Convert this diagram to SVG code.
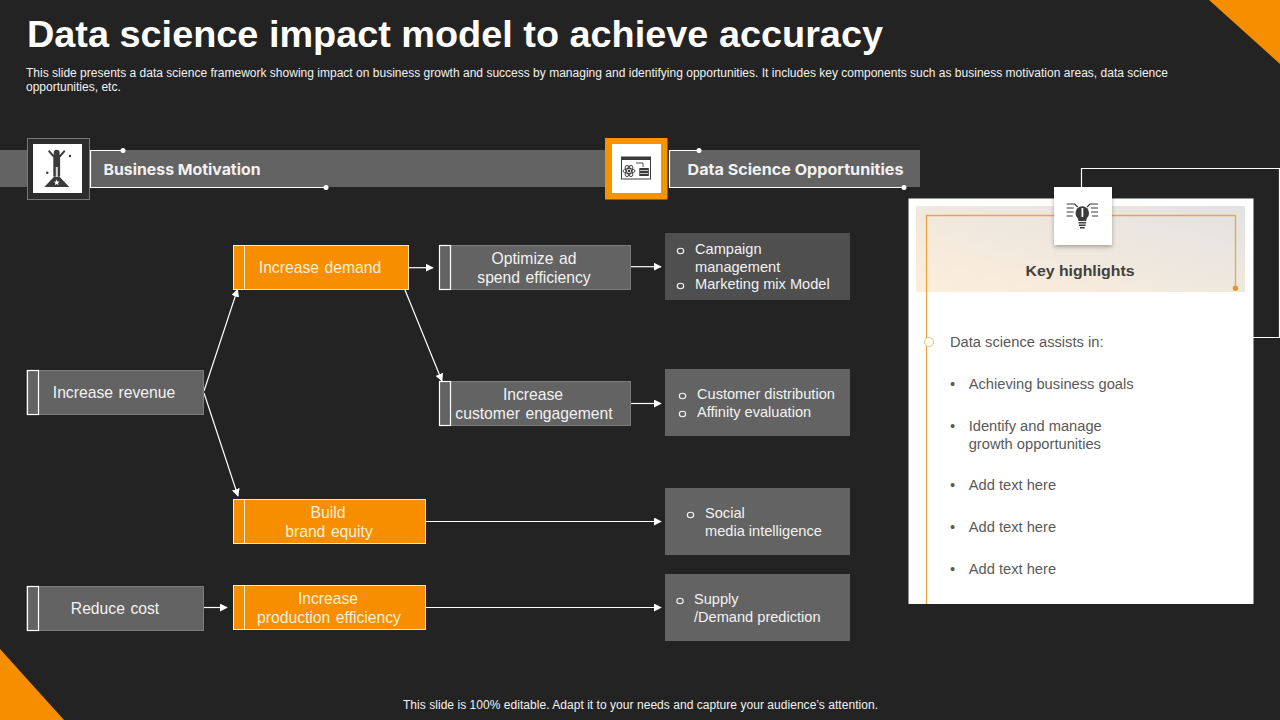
<svg xmlns="http://www.w3.org/2000/svg" width="1280" height="720" viewBox="0 0 1280 720">
<style>
text{font-family:"Liberation Sans",Arial,sans-serif}
.t{fill:#f2f2f2;font-size:15.7px;text-anchor:middle;word-spacing:1.2px}
.to{fill:#fdeeda;font-size:15.7px;text-anchor:middle;word-spacing:1.2px}
.g{fill:#636363;stroke:#7d7d7d;stroke-width:1}
.o{fill:#f68e00;stroke:#fbe3bd;stroke-width:1}
.tabg{fill:#636363;stroke:#fff;stroke-width:1.2}
.tabo{fill:#f68e00;stroke:#fdeeda;stroke-width:1}
.c{stroke:#fff;stroke-width:1.2;fill:none;marker-end:url(#a)}
.l{stroke:#fff;stroke-width:1.2;fill:none}
.dot{fill:#fff}
.s{fill:#f2f2f2;font-size:14.6px}
.b{fill:#595959;font-size:14.7px}
.h{font-family:Inter,"Liberation Sans",sans-serif;font-weight:700;font-size:15px;fill:#f2f2f2}
.ic{fill:#3a3a3a}
.o2{fill:none;stroke:#f2f2f2;stroke-width:1.1}
</style>
<defs>
<marker id="a" viewBox="0 0 10 10" refX="9" refY="5" markerWidth="8" markerHeight="8" markerUnits="userSpaceOnUse" orient="auto"><path d="M0 0L10 5L0 10z" fill="#fff"/></marker>
<linearGradient id="hl" x1="0" y1="1" x2="1" y2="0"><stop offset="0" stop-color="#fdeeda"/><stop offset="1" stop-color="#e2e2e2"/></linearGradient>
<filter id="sh" x="-20%" y="-20%" width="140%" height="140%"><feDropShadow dx="0" dy="2" stdDeviation="2" flood-color="#000" flood-opacity=".3"/></filter>
</defs>
<rect width="1280" height="720" fill="#232323"/>
<polygon points="1209,0 1280,0 1280,64" fill="#f68e00"/>
<polygon points="0,649 0,720 64,720" fill="#f68e00"/>
<text x="27" y="46.500" font-size="36" font-weight="700" fill="#fff" textLength="856" lengthAdjust="spacingAndGlyphs">Data science impact model to achieve accuracy</text>
<text x="26" y="77" font-size="12" fill="#f2f2f2" textLength="1142">This slide presents a data science framework showing impact on business growth and success by managing and identifying opportunities. It includes key components such as business motivation areas, data science</text>
<text x="26" y="91" font-size="12" fill="#f2f2f2">opportunities, etc.</text>
<text x="403" y="709" font-size="12" fill="#f2f2f2" textLength="475">This slide is 100% editable. Adapt it to your needs and capture your audience’s attention.</text>

<g id="band-business">
<rect x="0" y="150" width="606" height="37" fill="#636363"/>
<rect x="27.500" y="138.500" width="62" height="61" fill="#2d2d2d" stroke="#777"/>
<rect x="33" y="144" width="49" height="49" fill="#fff"/>
<g class="ic"><circle cx="56.700" cy="152.700" r="3"/><path d="M48 151.500l1.300-1.500 4 4.500h6.800l4-4.500 1.300 1.500-5.300 6v19h-6.800v-19z"/><path d="M44.300 187l10-10.500h5l10 10.500z"/><circle cx="70" cy="156" r="1.200"/><circle cx="47.300" cy="172.700" r="1.200"/></g>
<rect x="55.800" y="167" width="2" height="10" fill="#d9d9d9"/>
<polygon points="56.700,179.600 57.500,181.500 59.500,181.700 58,183 58.500,185 56.700,184 54.900,185 55.400,183 53.900,181.700 55.900,181.500" fill="#fff"/>
<path d="M123 150.500H90.500V187.500H326" class="l"/>
<circle cx="123" cy="150.500" r="2.500" class="dot"/><circle cx="326" cy="187.500" r="2.500" class="dot"/>
<text x="103.500" y="174.500" class="h" textLength="157" lengthAdjust="spacingAndGlyphs">Business Motivation</text>
</g>
<g id="band-data">
<rect x="669" y="150" width="251" height="37" fill="#636363"/>
<rect x="605" y="138" width="62.500" height="61.500" fill="#f59300"/>
<rect x="612" y="144" width="49" height="49" fill="#fff"/>
<rect x="621.500" y="157" width="29" height="22" fill="#fff" stroke="#3a3a3a" stroke-width="1"/>
<rect x="621.500" y="157" width="29" height="3" fill="#3a3a3a"/>
<g fill="none" stroke="#3a3a3a" stroke-width=".9"><ellipse cx="629" cy="171" rx="6" ry="2.500"/><ellipse cx="629" cy="171" rx="6" ry="2.500" transform="rotate(60 629 171)"/><ellipse cx="629" cy="171" rx="6" ry="2.500" transform="rotate(120 629 171)"/><path d="M636 163h7v4"/></g>
<circle cx="629" cy="171" r="1.300" fill="#3a3a3a"/>
<rect x="639.300" y="168" width="9.500" height="8" fill="#3a3a3a"/>
<path d="M640 170.500h8M640 173.500h8" stroke="#fff" stroke-width=".7"/>
<path d="M699 150.500H669.500V187.500H904" class="l"/>
<circle cx="699" cy="150.500" r="2.500" class="dot"/><circle cx="904" cy="187.500" r="2.500" class="dot"/>
<text x="687.500" y="174.500" class="h" textLength="216" lengthAdjust="spacingAndGlyphs">Data Science Opportunities</text>
</g>

<g id="connectors">
<path d="M204 391L237.500 289.500" class="c"/>
<path d="M204 393L238 496" class="c"/>
<path d="M409 267.700H433" class="c"/>
<path d="M405 290L442 381" class="c"/>
<path d="M631 266.700H661" class="c"/>
<path d="M631 403.500H661" class="c"/>
<path d="M426 521.500H661" class="c"/>
<path d="M204 607.500H227" class="c"/>
<path d="M426 607.500H661" class="c"/>
</g>

<g id="n-revenue"><rect x="27" y="370.500" width="176.500" height="44" class="g"/><rect x="27.500" y="370.500" width="11" height="44" class="tabg"/><text x="114" y="398" class="t">Increase revenue</text></g>
<g id="n-cost"><rect x="27" y="586.500" width="176.500" height="44" class="g"/><rect x="27.500" y="586.500" width="11" height="44" class="tabg"/><text x="115" y="614" class="t">Reduce cost</text></g>
<g id="n-demand"><rect x="233.500" y="245.500" width="175" height="44" class="o"/><rect x="233.500" y="245.500" width="11" height="44" class="tabo"/><text x="320" y="273" class="to">Increase demand</text></g>
<g id="n-brand"><rect x="233.500" y="499.500" width="192" height="44" class="o"/><rect x="233.500" y="499.500" width="11" height="44" class="tabo"/><text x="328" y="518" class="to">Build</text><text x="329" y="537" class="to">brand equity</text></g>
<g id="n-production"><rect x="233.500" y="585.500" width="192" height="44" class="o"/><rect x="233.500" y="585.500" width="11" height="44" class="tabo"/><text x="328" y="604" class="to">Increase</text><text x="329" y="623" class="to">production efficiency</text></g>
<g id="n-adspend"><rect x="439.500" y="245.500" width="191" height="44" class="g"/><rect x="439.500" y="245.500" width="11" height="44" class="tabg"/><text x="534" y="264" class="t">Optimize ad</text><text x="534" y="283" class="t">spend efficiency</text></g>
<g id="n-engagement"><rect x="439.500" y="381.500" width="191" height="44" class="g"/><rect x="439.500" y="381.500" width="11" height="44" class="tabg"/><text x="533" y="400" class="t">Increase</text><text x="534" y="419" class="t">customer engagement</text></g>

<g id="o-campaign"><rect x="665" y="233" width="185" height="67" fill="#4f4f4f"/><ellipse cx="680.500" cy="251" rx="3.200" ry="2.700" class="o2"/><ellipse cx="680.500" cy="286" rx="3.200" ry="2.700" class="o2"/><text x="695" y="254" class="s">Campaign</text><text x="695" y="272" class="s">management</text><text x="695" y="289" class="s">Marketing mix Model</text></g>
<g id="o-customer"><rect x="665" y="369" width="185" height="67" fill="#636363"/><ellipse cx="682.500" cy="396" rx="3.200" ry="2.700" class="o2"/><ellipse cx="682.500" cy="414" rx="3.200" ry="2.700" class="o2"/><text x="697" y="399" class="s">Customer distribution</text><text x="697" y="417" class="s">Affinity evaluation</text></g>
<g id="o-social"><rect x="665" y="488" width="185" height="67" fill="#636363"/><ellipse cx="690.500" cy="515" rx="3.200" ry="2.700" class="o2"/><text x="705" y="518" class="s">Social</text><text x="705" y="536" class="s">media intelligence</text></g>
<g id="o-supply"><rect x="665" y="574" width="185" height="67" fill="#636363"/><ellipse cx="680" cy="601" rx="3.200" ry="2.700" class="o2"/><text x="694" y="604" class="s">Supply</text><text x="694" y="622" class="s">/Demand prediction</text></g>

<g id="key-highlights">
<path d="M1081.500 190V168.500H1279.500V337.500H1250" class="l"/>
<rect x="908.500" y="198.500" width="345" height="405.500" fill="#fff"/>
<rect x="916" y="206" width="329" height="86" fill="url(#hl)"/>
<path d="M926.500 604V215.500H1235.500V288" fill="none" stroke="#eea53e" stroke-width="1.300"/>
<circle cx="1235.500" cy="288.300" r="2.700" fill="#e2962f"/>
<rect x="1054" y="187" width="58" height="58" fill="#fff" filter="url(#sh)"/>
<g class="ic"><circle cx="1082.300" cy="213" r="6.800"/><path d="M1077.500 217h9.600l-1 4h-7.600z"/><rect x="1078.500" y="222" width="7.600" height="1.500"/><rect x="1079" y="224.500" width="6.600" height="1.500"/><rect x="1080" y="227" width="4.600" height="1.500"/></g>
<path d="M1066.700 204h8l3 3M1066.700 208h7M1066.700 212h7M1066.700 216h6M1098 204h-8l-3 3M1098 208h-7M1098 212h-7M1098 216h-6" fill="none" stroke="#3a3a3a" stroke-width="1.200"/>
<rect x="1081.500" y="208" width="1.800" height="9" fill="#fff"/>
<text x="1025.500" y="276" font-family="Inter,Liberation Sans,sans-serif" font-weight="700" font-size="15" fill="#404040" textLength="109" lengthAdjust="spacingAndGlyphs">Key highlights</text>
<circle cx="929" cy="342" r="4.500" fill="#fff" stroke="#ecc779" stroke-width="1.200"/>
<text x="950" y="347" class="b">Data science assists in:</text>
<text x="950" y="389" class="b">•</text><text x="968.700" y="389" class="b">Achieving business goals</text>
<text x="950" y="431" class="b">•</text><text x="968.700" y="431" class="b">Identify and manage</text><text x="968.700" y="449" class="b">growth opportunities</text>
<text x="950" y="490" class="b">•</text><text x="968.700" y="490" class="b">Add text here</text>
<text x="950" y="532" class="b">•</text><text x="968.700" y="532" class="b">Add text here</text>
<text x="950" y="574" class="b">•</text><text x="968.700" y="574" class="b">Add text here</text>
</g>
</svg>
